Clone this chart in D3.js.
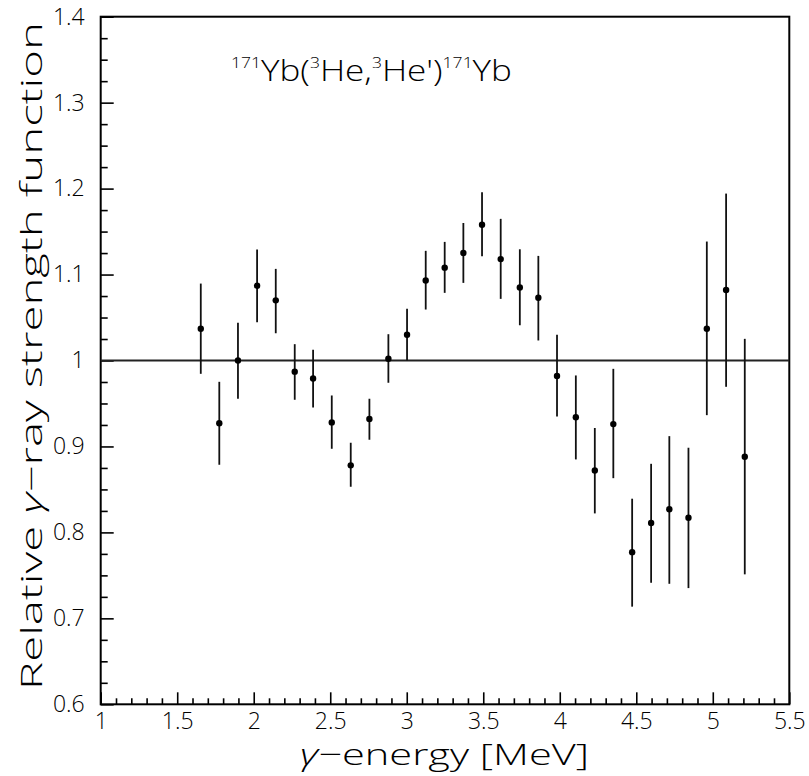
<!DOCTYPE html>
<html>
<head>
<meta charset="utf-8">
<script src="https://cdn.jsdelivr.net/npm/d3@7"></script>
<style>
  html, body { margin: 0; padding: 0; background: #fff; }
  svg { display: block; }
  text { font-family: "Open Sans", "DejaVu Sans", sans-serif; font-weight: 300; fill: #000; }
  .greek { font-style: italic; }
</style>
</head>
<body>
<svg id="chart" width="809" height="776"></svg>
<script>
// ---- data ----
const energy = [1.654, 1.775, 1.897, 2.022, 2.144, 2.268, 2.388, 2.510, 2.634, 2.756,
                2.880, 3.002, 3.124, 3.248, 3.370, 3.492, 3.614, 3.739, 3.860, 3.982,
                4.105, 4.229, 4.350, 4.473, 4.597, 4.716, 4.841, 4.961, 5.087, 5.209];
const strength = [1.037, 0.927, 1.000, 1.087, 1.070, 0.987, 0.979, 0.928, 0.878, 0.932,
                  1.002, 1.030, 1.093, 1.108, 1.125, 1.158, 1.118, 1.085, 1.073, 0.982,
                  0.934, 0.872, 0.926, 0.777, 0.811, 0.827, 0.817, 1.037, 1.082, 0.888];
const errTop = [1.0895, 0.9752, 1.0438, 1.1291, 1.1066, 1.0190, 1.0124, 0.9593, 0.9043, 0.9555,
                1.0306, 1.0602, 1.1276, 1.1380, 1.1600, 1.1957, 1.1648, 1.1294, 1.1217, 1.0299,
                0.9826, 0.9215, 0.9903, 0.8392, 0.8798, 0.9120, 0.8985, 1.1384, 1.1942, 1.0252];
const errBottom = [0.9845, 0.8787, 0.9555, 1.0445, 1.0317, 0.9543, 0.9453, 0.8973, 0.8531, 0.9078,
                   0.9741, 1.0000, 1.0593, 1.0787, 1.0903, 1.1213, 1.0717, 1.0410, 1.0233, 0.9349,
                   0.8849, 0.8221, 0.8631, 0.7136, 0.7414, 0.7402, 0.7352, 0.9364, 0.9694, 0.7512];
const xTicks = [1, 1.5, 2, 2.5, 3, 3.5, 4, 4.5, 5, 5.5];
const xTickLabels = ["1", "1.5", "2", "2.5", "3", "3.5", "4", "4.5", "5", "5.5"];
const yTicks = [0.6, 0.7, 0.8, 0.9, 1.0, 1.1, 1.2, 1.3, 1.4];
const yTickLabels = ["0.6", "0.7", "0.8", "0.9", "1", "1.1", "1.2", "1.3", "1.4"];
const referenceLevel = 1.0;

// ---- layout ----
const margin = { left: 100.7, top: 16.7, right: 809 - 789.3, bottom: 776 - 704.3 };
const W = 809, H = 776;
const iw = W - margin.left - margin.right;
const ih = H - margin.top - margin.bottom;

const svg = d3.select("#chart");
const g = svg.append("g").attr("transform", `translate(${margin.left},${margin.top})`);

const x = d3.scaleLinear().domain([1, 5.5]).range([0, iw]);
const y = d3.scaleLinear().domain([0.6, 1.4]).range([ih, 0]);

// minor ticks
const xMinor = d3.range(10, 56).map(d => d / 10).filter(d => !xTicks.some(t => Math.abs(t - d) < 1e-9));
const yMinor = d3.range(24, 57).map(d => d / 40).filter(d => !yTicks.some(t => Math.abs(t - d) < 1e-9));

const xMinorAxis = g.append("g").attr("transform", `translate(0,${ih})`)
  .call(d3.axisBottom(x).tickValues(xMinor).tickSize(-6).tickFormat(""));
const xAxis = g.append("g").attr("transform", `translate(0,${ih})`)
  .call(d3.axisBottom(x).tickValues(xTicks).tickSize(-12).tickPadding(8)
    .tickFormat((d, i) => xTickLabels[i]));
const yMinorAxis = g.append("g")
  .call(d3.axisLeft(y).tickValues(yMinor).tickSize(-7).tickFormat(""));
const yAxis = g.append("g")
  .call(d3.axisLeft(y).tickValues(yTicks).tickSize(-13).tickPadding(16)
    .tickFormat((d, i) => yTickLabels[i]));

[xMinorAxis, xAxis, yMinorAxis, yAxis].forEach(a => {
  a.select(".domain").remove();
  a.selectAll(".tick line").attr("stroke", "#000").attr("stroke-width", 1.6);
  a.selectAll(".tick text").style("font-size", "23px").style("font-family", null).attr("fill", "#000");
});

// frame
g.append("rect").attr("x", 0).attr("y", 0).attr("width", iw).attr("height", ih)
  .attr("fill", "none").attr("stroke", "#000").attr("stroke-width", 2);

// reference line
g.append("line")
  .attr("x1", 0).attr("x2", iw)
  .attr("y1", y(referenceLevel)).attr("y2", y(referenceLevel))
  .attr("stroke", "#222").attr("stroke-width", 1.8);

// error bars
const pts = energy.map((e, i) => ({ e, v: strength[i], hi: errTop[i], lo: errBottom[i] }));
g.selectAll("line.err").data(pts).enter().append("line").attr("class", "err")
  .attr("x1", d => x(d.e)).attr("x2", d => x(d.e))
  .attr("y1", d => y(d.hi)).attr("y2", d => y(d.lo))
  .attr("stroke", "#111").attr("stroke-width", 1.8);

// points
g.selectAll("circle.pt").data(pts).enter().append("circle").attr("class", "pt")
  .attr("cx", d => x(d.e)).attr("cy", d => y(d.v)).attr("r", 3.2).attr("fill", "#000");

// title
const title = svg.append("text").attr("x", 231).attr("y", 80.7).style("font-size", "30px")
  .attr("textLength", 281).attr("lengthAdjust", "spacingAndGlyphs");
title.append("tspan").text("171").attr("dy", "-13").style("font-size", "15px");
title.append("tspan").text("Yb(").attr("dy", "13");
title.append("tspan").text("3").attr("dy", "-13").style("font-size", "15px");
title.append("tspan").text("He,").attr("dy", "13");
title.append("tspan").text("3").attr("dy", "-13").style("font-size", "15px");
title.append("tspan").text("He'").attr("dy", "13");
title.append("tspan").text(")");
title.append("tspan").text("171").attr("dy", "-13").style("font-size", "15px");
title.append("tspan").text("Yb").attr("dy", "13");

// axis titles
const xt = svg.append("text")
  .attr("x", 300).attr("y", 765)
  .style("font-size", "30px")
  .attr("textLength", 289).attr("lengthAdjust", "spacingAndGlyphs");
xt.append("tspan").attr("class", "greek").text("γ");
xt.append("tspan").text("−energy [MeV]");

const yt = svg.append("text")
  .attr("transform", `translate(42,690) rotate(-90)`)
  .style("font-size", "30px")
  .attr("textLength", 668).attr("lengthAdjust", "spacingAndGlyphs");
yt.append("tspan").text("Relative ");
yt.append("tspan").attr("class", "greek").text("γ");
yt.append("tspan").text("−ray strength function");
</script>
</body>
</html>
